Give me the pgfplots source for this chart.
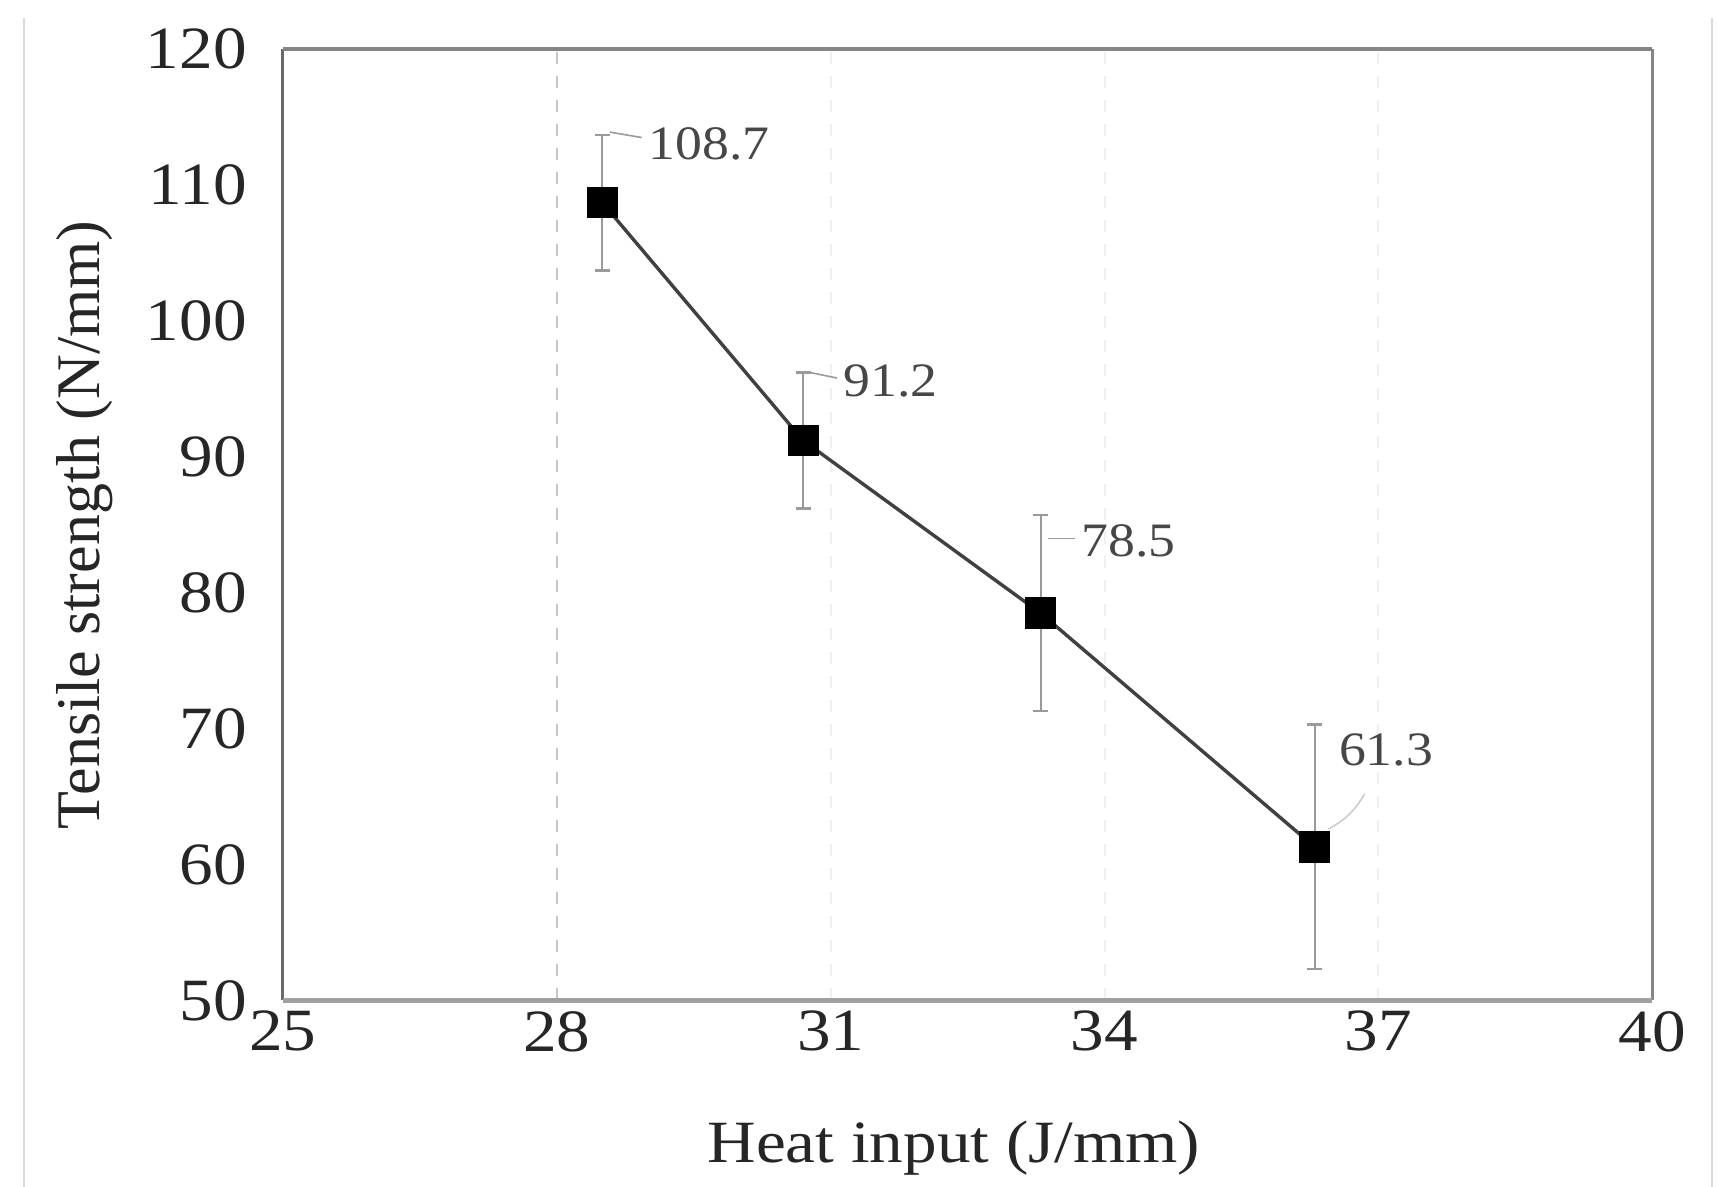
\documentclass[border=0pt]{standalone}
\usepackage{fontspec}
\setmainfont{Liberation Serif}[FakeStretch=1.12]
\newfontfamily\ylabfont{Liberation Serif}
\usepackage{pgfplots}
\pgfplotsset{compat=1.18}
\definecolor{frameL}{HTML}{6A6A6A}
\definecolor{frameT}{HTML}{858585}
\definecolor{frameB}{HTML}{A0A0A0}
\definecolor{lineC}{HTML}{404040}
\definecolor{errC}{HTML}{9A9A9A}
\begin{document}
\begin{tikzpicture}
\useasboundingbox (-70.7pt,-46.65pt) rectangle (358.8pt,250.1pt);
\draw[gray!30, line width=0.4pt] (-64.7pt,-46.65pt) -- (-64.7pt,245.6pt);
\draw[gray!30, line width=0.4pt] (357.3pt,-46.65pt) -- (357.3pt,245.6pt);
\begin{axis}[
  scale only axis, width=342.4pt, height=237.8pt,
  xmin=25, xmax=40, ymin=50, ymax=120,
  xtick={25,28,31,34,37,40}, ytick={50,60,70,80,90,100,110,120},
  major tick length=0pt, tick style={draw=none},
  axis line style={draw=none},
  /pgf/number format/assume math mode=true,
  ticklabel style={font=\fontsize{15}{18}\selectfont, text=black!85},
  xticklabel style={inner sep=0pt, anchor=north, yshift=-2.5pt},
  yticklabel style={inner sep=0pt, anchor=east, xshift=-8.8pt},
  xlabel={Heat input (J/mm)},
  ylabel={\ylabfont Tensile strength (N/mm)},
  xlabel style={at={(axis description cs:0.49,-0.1556)}, anchor=center, font=\fontsize{15}{18}\selectfont, text=black!85},
  ylabel style={at={(axis description cs:-0.1443,0.5)}, anchor=center, font=\fontsize{15.5}{18}\selectfont, text=black!85},
  clip=false,
]
% grid lines
\draw[dashed, gray!45, line width=0.5pt] (axis cs:28,50) -- (axis cs:28,120);
\draw[dashed, gray!12, line width=0.5pt] (axis cs:31,50) -- (axis cs:31,120);
\draw[dashed, gray!12, line width=0.5pt] (axis cs:34,50) -- (axis cs:34,120);
\draw[dashed, gray!12, line width=0.5pt] (axis cs:37,50) -- (axis cs:37,120);
% frame
\draw[frameL, line width=0.7pt] (rel axis cs:0,0) -- (rel axis cs:0,1);
\draw[frameT, line width=0.9pt] (rel axis cs:0,1) -- (rel axis cs:1,1);
\draw[frameT, line width=0.8pt] (rel axis cs:1,1) -- (rel axis cs:1,0);
\draw[frameB, line width=1.2pt] (rel axis cs:0,0) -- (rel axis cs:1,0);
% data
\addplot[color=lineC, line width=0.85pt, mark=square*, mark size=3.5pt,
  mark options={fill=black, draw=black, solid},
  error bars/.cd, y dir=both, y explicit,
  error bar style={color=errC, line width=0.5pt},
  error mark options={rotate=90, mark size=1.9pt, line width=0.6pt, errC}]
  coordinates {
    (28.5,108.7) +- (0,5.0)
    (30.7,91.2)  +- (0,5.0)
    (33.3,78.5)  +- (0,7.2)
    (36.3,61.3)  +- (0,9.0)
  };
% leader lines
\draw[errC, line width=0.4pt] (axis cs:28.58,113.9) -- (axis cs:28.93,113.5);
\draw[errC, line width=0.4pt] (axis cs:30.78,96.2) -- (axis cs:31.07,95.8);
\draw[errC, line width=0.4pt] (axis cs:33.38,84.0) -- (axis cs:33.68,84.0);
\draw[gray!40, line width=0.4pt] (axis cs:36.45,62.6) to[bend right=15] (axis cs:36.85,65.2);
% data labels
\node[anchor=west, font=\fontsize{12}{14}\selectfont, text=black!72, inner sep=0pt] at (axis cs:29.0,113.0) {108.7};
\node[anchor=west, font=\fontsize{12}{14}\selectfont, text=black!72, inner sep=0pt] at (axis cs:31.13,95.6) {91.2};
\node[anchor=west, font=\fontsize{12}{14}\selectfont, text=black!72, inner sep=0pt] at (axis cs:33.74,83.8) {78.5};
\node[anchor=west, font=\fontsize{12}{14}\selectfont, text=black!72, inner sep=0pt] at (axis cs:36.56,68.4) {61.3};
\end{axis}
\end{tikzpicture}
\end{document}
